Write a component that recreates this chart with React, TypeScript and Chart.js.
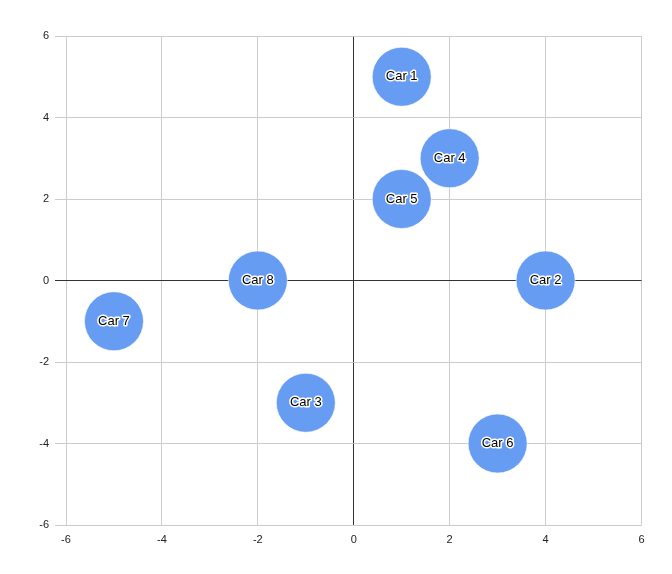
import React, { useEffect, useRef } from "react";
import { Chart, registerables } from "chart.js";

Chart.register(...registerables);

const labels = ["Car 1", "Car 2", "Car 3", "Car 4", "Car 5", "Car 6", "Car 7", "Car 8"];
const xValues = [1, 4, -1, 2, 1, 3, -5, -2];
const yValues = [5, 0, -3, 3, 2, -4, -1, 0];
const axisMin = -6;
const axisMax = 6;
const tickStep = 2;

const labelPlugin = {
  id: "bubbleLabels",
  afterDatasetsDraw(chart: any) {
    const ctx = chart.ctx;
    const meta = chart.getDatasetMeta(0);
    ctx.save();
    ctx.font = "13px 'Liberation Sans', Arial, sans-serif";
    ctx.textAlign = "center";
    ctx.textBaseline = "middle";
    ctx.lineJoin = "round";
    meta.data.forEach((el: any, i: number) => {
      const { x, y } = el.getProps(["x", "y"], true);
      ctx.strokeStyle = "#ffffff";
      ctx.lineWidth = 3;
      ctx.strokeText(labels[i], x, y);
      ctx.fillStyle = "#000000";
      ctx.fillText(labels[i], x, y);
    });
    ctx.restore();
  },
};

export default function App() {
  const ref = useRef<HTMLCanvasElement>(null);
  useEffect(() => {
    const data = labels.map((_, i) => ({ x: xValues[i], y: yValues[i], r: 29.5 }));
    const gridColor = (c: any) => (c.tick && c.tick.value === 0 ? "#333333" : "#cccccc");
    const chart = new Chart(ref.current!, {
      type: "bubble",
      data: {
        datasets: [
          {
            data,
            backgroundColor: "#669cf2",
            borderColor: "rgba(255,255,255,0.6)",
            borderWidth: 1,
          },
        ],
      },
      options: {
        animation: false,
        responsive: false,
        maintainAspectRatio: false,
        layout: { padding: { top: 36, right: 26, left: 0, bottom: 0 } },
        plugins: { legend: { display: false }, tooltip: { enabled: false } },
        scales: {
          x: {
            type: "linear",
            min: axisMin,
            max: axisMax,
            border: { display: false },
            grid: { color: gridColor, drawTicks: false, lineWidth: 1 },
            ticks: {
              stepSize: tickStep,
              padding: 8,
              color: "#222222",
              font: { family: "'Liberation Sans', Arial, sans-serif", size: 11 },
              maxRotation: 0,
            },
            afterFit: (s: any) => {
              s.height = 49;
            },
          },
          y: {
            type: "linear",
            min: axisMin,
            max: axisMax,
            border: { display: false },
            grid: { color: gridColor, drawTicks: true, tickLength: 11, lineWidth: 1 },
            ticks: {
              stepSize: tickStep,
              padding: 6,
              color: "#222222",
              font: { family: "'Liberation Sans', Arial, sans-serif", size: 11 },
            },
            afterFit: (s: any) => {
              s.width = 66;
            },
          },
        },
      },
      plugins: [labelPlugin],
    });
    return () => chart.destroy();
  }, []);
  return (
    <div style={{ position: "fixed", left: 0, top: 0, width: 672, height: 574, background: "#fff" }}>
      <canvas ref={ref} width={672} height={574} />
    </div>
  );
}
